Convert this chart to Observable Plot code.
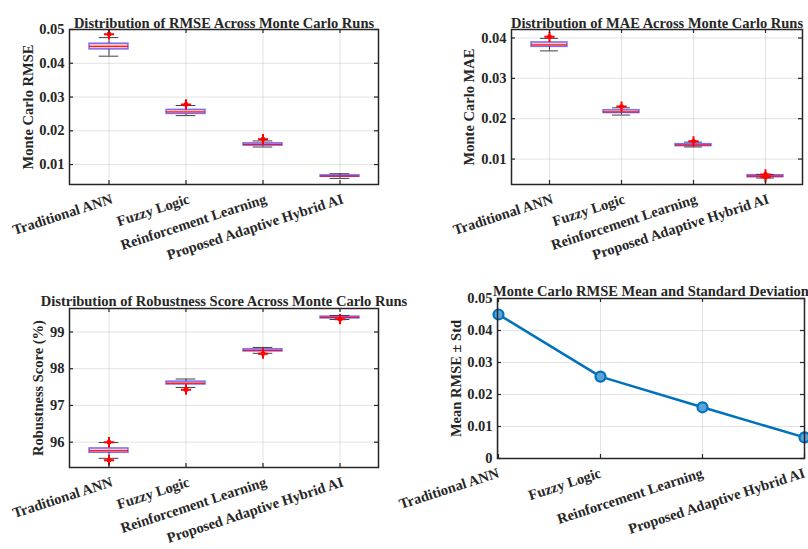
<!DOCTYPE html>
<html><head><meta charset="utf-8">
<script src="https://cdn.jsdelivr.net/npm/d3@7"></script>
<script src="https://cdn.jsdelivr.net/npm/@observablehq/plot@0.6"></script>
<style>
html,body{margin:0;padding:0;background:#fff;overflow:hidden;}
#root{position:relative;width:808px;height:549px;overflow:hidden;background:#fff;}
#root svg{position:absolute;}
</style></head><body><div id="root"></div>
<script>
// ---- data ----
const categories = ["Traditional ANN", "Fuzzy Logic", "Reinforcement Learning", "Proposed Adaptive Hybrid AI"];

const rmseLo  = [0.0421, 0.0245, 0.0152, 0.0059];
const rmseQ1  = [0.0441, 0.0250, 0.0156, 0.0064];
const rmseMed = [0.0450, 0.0256, 0.0160, 0.0066];
const rmseQ3  = [0.0458, 0.0262, 0.0163, 0.0068];
const rmseHi  = [0.0476, 0.0275, 0.0170, 0.0073];
const rmseOutCat = ["Traditional ANN", "Fuzzy Logic", "Reinforcement Learning"];
const rmseOutVal = [0.0486, 0.0278, 0.0175];
const rmseTicks = [0.01, 0.02, 0.03, 0.04, 0.05];

const maeLo  = [0.0368, 0.0209, 0.0130, 0.0053];
const maeQ1  = [0.0378, 0.0214, 0.0132, 0.0055];
const maeMed = [0.0383, 0.0217, 0.0135, 0.0058];
const maeQ3  = [0.0389, 0.0221, 0.0137, 0.0060];
const maeHi  = [0.0399, 0.0227, 0.0142, 0.0062];
const maeOutCat = ["Traditional ANN", "Fuzzy Logic", "Reinforcement Learning", "Proposed Adaptive Hybrid AI", "Proposed Adaptive Hybrid AI"];
const maeOutVal = [0.0403, 0.0230, 0.0144, 0.0062, 0.0055];
const maeTicks = [0.01, 0.02, 0.03, 0.04];

const robLo  = [95.56, 97.49, 98.42, 99.34];
const robQ1  = [95.71, 97.57, 98.47, 99.37];
const robMed = [95.77, 97.61, 98.50, 99.40];
const robQ3  = [95.83, 97.65, 98.53, 99.42];
const robHi  = [95.99, 97.72, 98.58, 99.45];
const robOutCat = ["Traditional ANN", "Traditional ANN", "Fuzzy Logic", "Reinforcement Learning", "Proposed Adaptive Hybrid AI"];
const robOutVal = [96.00, 95.51, 97.43, 98.41, 99.35];
const robTicks = [96, 97, 98, 99];

const meanRmse = [0.0450, 0.0256, 0.0160, 0.0066];
const stdRmse  = [0.0010, 0.0006, 0.0004, 0.0002];
const meanTicks = [0, 0.01, 0.02, 0.03, 0.04, 0.05];

// ---- styling ----
const FONT = "'Liberation Serif', 'Times New Roman', serif";
const INK = "#262626";
const baseStyle = {fontFamily: FONT, fontSize: "14.5px", fontWeight: "bold", color: INK,
  background: "transparent", overflow: "visible", maxWidth: "none"};
const root = document.getElementById("root");

function place(svg, left, top) {
  svg.style.left = left + "px";
  svg.style.top = top + "px";
  root.appendChild(svg);
}

function commonMarks(o, fw, fh, xVals) {
  return [
    Plot.frame({stroke: INK, strokeWidth: 1.5}),
    Plot.ruleY(o.yTicks, {stroke: INK, strokeWidth: 1.2, insetRight: fw - 4}),
    Plot.ruleY(o.yTicks, {stroke: INK, strokeWidth: 1.2, insetLeft: fw - 4}),
    Plot.ruleX(xVals, {stroke: INK, strokeWidth: 1.2, insetTop: fh - 4}),
    Plot.ruleX(xVals, {stroke: INK, strokeWidth: 1.2, insetBottom: fh - 4}),
    Plot.axisY({ticks: o.yTicks, tickSize: 0, tickPadding: 5, tickFormat: d => String(d), label: null}),
    Plot.axisX({tickRotate: -18, tickSize: 0, tickPadding: 14, dx: o.labelShift, label: null}),
    Plot.text([o.title], {text: d => d, frameAnchor: "top", textAnchor: "middle", dy: o.titleDy}),
    Plot.text([o.ylabel], {text: d => d, frameAnchor: "left", textAnchor: "middle", rotate: -90, dx: o.labelDx})
  ];
}

function boxPanel(o) {
  const fw = o.width - o.mL - o.mR, fh = o.height - o.mT - o.mB;
  const bw = fw / 8;
  const rows = categories.map((c, i) => ({c, lo: o.lo[i], q1: o.q1[i], med: o.med[i], q3: o.q3[i], hi: o.hi[i]}));
  const outs = o.outCat.map((c, i) => ({c, v: o.outVal[i]}));
  const svg = Plot.plot({
    width: o.width, height: o.height,
    marginLeft: o.mL, marginRight: o.mR, marginTop: o.mT, marginBottom: o.mB,
    style: baseStyle,
    x: {type: "band", domain: categories, paddingInner: 0.5, paddingOuter: 0.25},
    y: {domain: o.yDomain},
    marks: [
      Plot.ruleY(o.yTicks, {stroke: INK, strokeOpacity: 0.13}),
      Plot.ruleX(categories, {stroke: INK, strokeOpacity: 0.13}),
      Plot.ruleX(rows, {x: "c", y1: "lo", y2: "q1", stroke: "#404040", strokeWidth: 1}),
      Plot.ruleX(rows, {x: "c", y1: "q3", y2: "hi", stroke: "#404040", strokeWidth: 1}),
      Plot.tickY(rows, {x: "c", y: "lo", insetLeft: bw / 4, insetRight: bw / 4, stroke: "#404040", strokeWidth: 1}),
      Plot.tickY(rows, {x: "c", y: "hi", insetLeft: bw / 4, insetRight: bw / 4, stroke: "#404040", strokeWidth: 1}),
      Plot.barY(rows, {x: "c", y1: "q1", y2: "q3", fill: "#ff2020", fillOpacity: 0.25,
        stroke: "#2020ff", strokeOpacity: 0.6, strokeWidth: 1.5}),
      Plot.tickY(rows, {x: "c", y: "med", stroke: "#ff0000", strokeWidth: 1.3, strokeOpacity: 0.85}),
      Plot.dot(outs, {x: "c", y: "v", r: 2.4, fill: "#ff0000"}),
      Plot.dot(outs, {x: "c", y: "v", symbol: "plus", r: 3.4, stroke: "#ff0000", strokeWidth: 2}),
      ...commonMarks(o, fw, fh, categories)
    ]
  });
  place(svg, o.left, o.top);
}

boxPanel({left: 0, top: 0, width: 404, height: 270, mL: 69, mR: 26, mT: 29, mB: 86,
  yDomain: [0.0041, 0.05], yTicks: rmseTicks, titleDy: -12, labelShift: 3,
  title: "Distribution of RMSE Across Monte Carlo Runs", ylabel: "Monte Carlo RMSE", labelDx: -41,
  lo: rmseLo, q1: rmseQ1, med: rmseMed, q3: rmseQ3, hi: rmseHi, outCat: rmseOutCat, outVal: rmseOutVal});

boxPanel({left: 404, top: 0, width: 404, height: 270, mL: 107, mR: 6, mT: 29, mB: 86,
  yDomain: [0.0037, 0.0421], yTicks: maeTicks, titleDy: -12, labelShift: 3,
  title: "Distribution of MAE Across Monte Carlo Runs", ylabel: "Monte Carlo MAE", labelDx: -42,
  lo: maeLo, q1: maeQ1, med: maeMed, q3: maeQ3, hi: maeHi, outCat: maeOutCat, outVal: maeOutVal});

boxPanel({left: 0, top: 270, width: 404, height: 279, mL: 69, mR: 26, mT: 38, mB: 82,
  yDomain: [95.31, 99.64], yTicks: robTicks, titleDy: -13, labelShift: 3,
  title: "Distribution of Robustness Score Across Monte Carlo Runs", ylabel: "Robustness Score (%)", labelDx: -31,
  lo: robLo, q1: robQ1, med: robMed, q3: robQ3, hi: robHi, outCat: robOutCat, outVal: robOutVal});

// ---- mean & std line panel ----
(function () {
  const o = {left: 404, top: 270, width: 404, height: 279, mL: 93, mR: 4, mT: 28, mB: 91,
    yTicks: meanTicks, title: "Monte Carlo RMSE Mean and Standard Deviation", titleDy: -13, labelShift: 0,
    ylabel: "Mean RMSE \u00b1 Std", labelDx: -41};
  const fw = o.width - o.mL - o.mR, fh = o.height - o.mT - o.mB;
  const rows = categories.map((c, i) => ({c, m: meanRmse[i], lo: meanRmse[i] - stdRmse[i], hi: meanRmse[i] + stdRmse[i]}));
  const svg = Plot.plot({
    width: o.width, height: o.height,
    marginLeft: o.mL, marginRight: o.mR, marginTop: o.mT, marginBottom: o.mB,
    style: baseStyle,
    x: {type: "point", domain: categories, padding: 0},
    y: {domain: [0, 0.05]},
    marks: [
      Plot.ruleY(o.yTicks, {stroke: INK, strokeOpacity: 0.13}),
      Plot.ruleX(categories, {stroke: INK, strokeOpacity: 0.13}),
      Plot.ruleX(rows, {x: "c", y1: "lo", y2: "hi", stroke: "#0072BD", strokeWidth: 2}),
      Plot.line(rows, {x: "c", y: "m", stroke: "#0072BD", strokeWidth: 2.5}),
      Plot.dot(rows, {x: "c", y: "m", r: 5, stroke: "#0072BD", strokeWidth: 2.2, fill: "#5aa2d8"}),
      ...commonMarks(o, fw, fh, categories)
    ]
  });
  place(svg, o.left, o.top);
})();
</script></body></html>
